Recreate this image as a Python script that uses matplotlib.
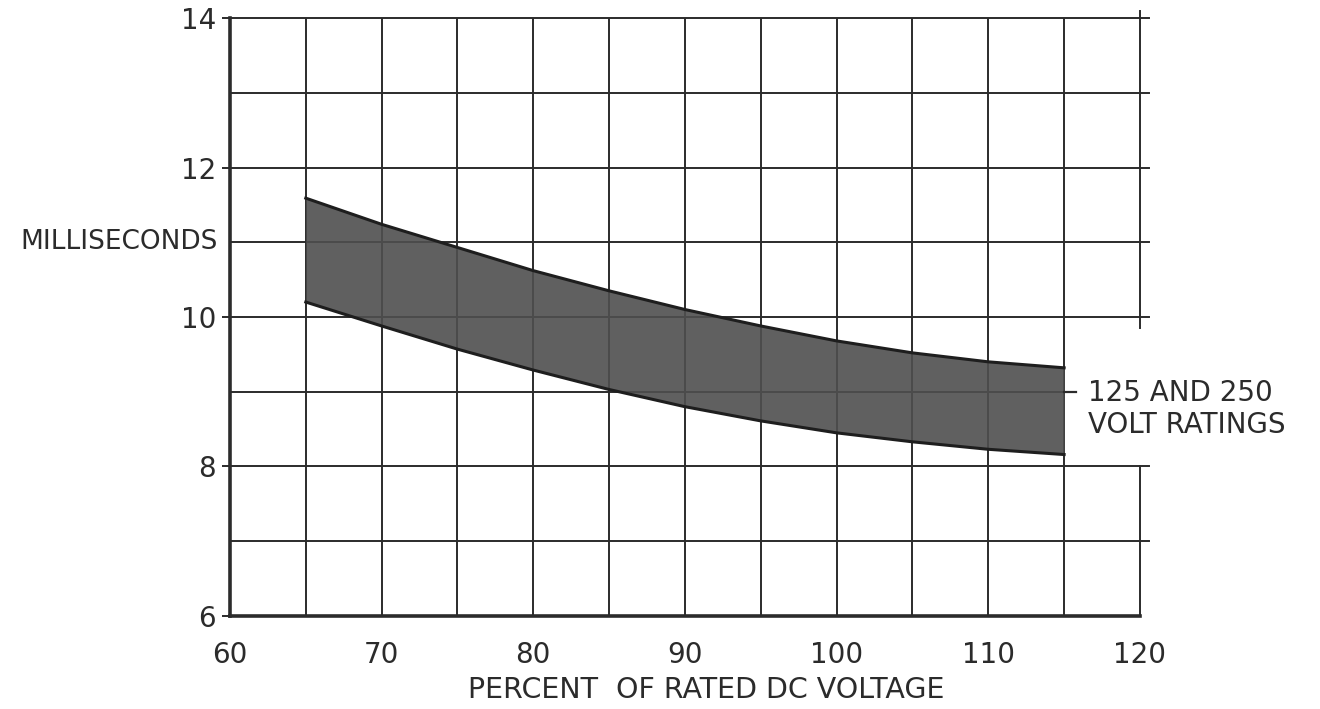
import numpy as np
import matplotlib
matplotlib.use("Agg")
from matplotlib import pyplot as plt
from matplotlib import transforms

# percent of rated DC voltage vs. milliseconds
pct = [65, 70, 75, 80, 85, 90, 95, 100, 105, 110, 115]
upper = [11.59, 11.24, 10.93, 10.62, 10.35, 10.10, 9.88, 9.68, 9.52, 9.40, 9.32]
lower = [10.20, 9.88, 9.57, 9.29, 9.03, 8.80, 8.61, 8.45, 8.33, 8.23, 8.16]

x_ticks = [60, 70, 80, 90, 100, 110, 120]
y_ticks = [6, 8, 10, 12, 14]
band_label = "125 AND 250\nVOLT RATINGS"

ink = '#2b2b2b'
plt.rcParams['font.family'] = ['DejaVu Sans']

fig = plt.figure(figsize=(13.2, 7.09), dpi=100)
ax = fig.add_axes([0.1742, 0.1312, 0.6894, 0.8434])

ax.set_xlim(60, 120)
ax.set_ylim(6, 14)

# hand-ruled grid: every 5 % and every 1 ms
for gx in range(65, 120, 5):
    ax.plot([gx, gx], [6, 14], color=ink, lw=1.4, zorder=1)
# right-hand line is broken where the label sits
ax.plot([120, 120], [9.85, 14.1], color=ink, lw=1.4, zorder=1, clip_on=False)
ax.plot([120, 120], [6, 8], color=ink, lw=1.4, zorder=1, clip_on=False)
for gy in range(7, 15):
    if gy == 9:
        ax.plot([60, 115], [gy, gy], color=ink, lw=1.4, zorder=1)
    else:
        ax.plot([60, 120.6], [gy, gy], color=ink, lw=1.4, zorder=1, clip_on=False)

ax.fill_between(pct, lower, upper, color='#4f4f4f', alpha=0.9, lw=0, zorder=2)
ax.plot(pct, upper, color='#1e1e1e', lw=2.2, zorder=3)
ax.plot(pct, lower, color='#1e1e1e', lw=2.2, zorder=3)

for s in ['top', 'right']:
    ax.spines[s].set_visible(False)
for s in ['left', 'bottom']:
    ax.spines[s].set_linewidth(2.6)
    ax.spines[s].set_color(ink)

ax.set_xticks(x_ticks)
ax.set_yticks(y_ticks)
ax.tick_params(axis='x', length=0, pad=18, labelsize=20, labelcolor=ink)
ax.tick_params(axis='y', length=6, width=1.4, color=ink, pad=4,
               labelsize=20, labelcolor=ink)

ax.text(-0.013, 11, "MILLISECONDS", transform=ax.get_yaxis_transform(),
        ha='right', va='center', fontsize=19, color=ink)
ax.text(91.4, 0.027, "PERCENT  OF RATED DC VOLTAGE",
        transform=transforms.blended_transform_factory(ax.transData, fig.transFigure),
        ha='center', va='center', fontsize=20.5, color=ink)

# label for the band
ax.plot([115, 115.8], [9, 9], color=ink, lw=1.6, clip_on=False, zorder=3)
ax.text(116.6, 8.77, band_label, ha='left', va='center', fontsize=20,
        color=ink, linespacing=1.15)

plt.savefig('out.png', dpi=100)
